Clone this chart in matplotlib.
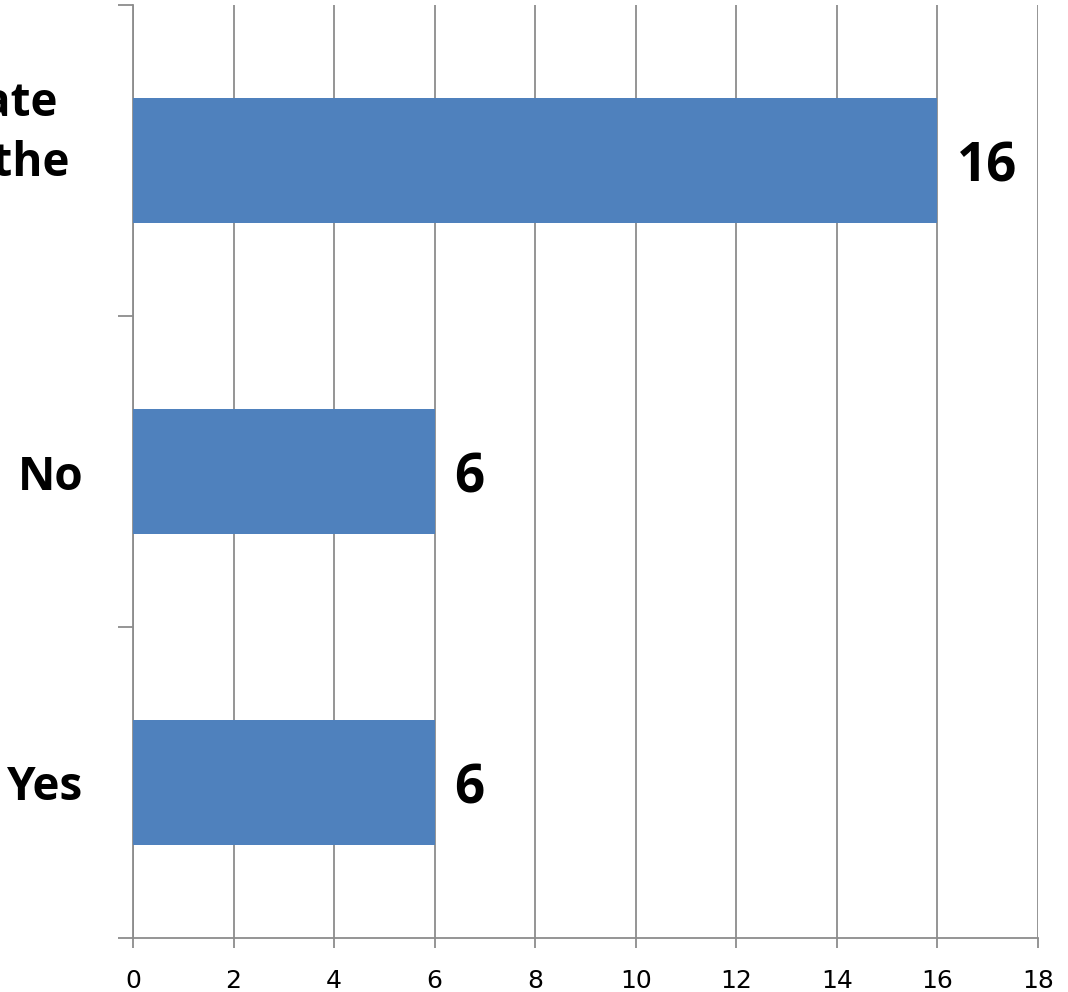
import numpy as np
import matplotlib
matplotlib.use("Agg")
import matplotlib.pyplot as plt

# data
categories = ["Yes", "No", "Not sure / Too early to evaluate\nthe impact of the changes to the\nsystem"]
values = [6, 6, 16]
x_ticks = list(range(0, 19, 2))

bar_color = "#4F81BD"
axis_gray = "#8C8C8C"

fig = plt.figure(figsize=(10.68, 9.92), dpi=100)
ax = fig.add_axes([133/1068, 1 - 938/992, (1038-133)/1068, (938-5)/992])

pos = np.arange(len(categories))
bars = ax.barh(pos, values, height=0.4, color=bar_color, zorder=3)

ax.set_xlim(0, 18)
ax.set_ylim(-0.5, len(categories) - 0.5)
ax.set_xticks(x_ticks)
ax.set_xticklabels([str(t) for t in x_ticks], fontsize=18, family="DejaVu Sans")

# category boundaries as major ticks, names as minor ticks
ax.set_yticks(np.arange(-0.5, len(categories), 1.0))
ax.set_yticklabels([])
ax.set_yticks(pos[:2], minor=True)
ax.set_yticklabels(categories[:2], minor=True, fontsize=33,
                   fontweight="bold", family="Open Sans")
ax.tick_params(axis="y", which="minor", length=0, pad=36)
ax.tick_params(axis="y", which="major", length=10.8, width=1.3, color=axis_gray)
ax.tick_params(axis="x", length=7.2, width=1.3, color=axis_gray, pad=15)

# long label, cut off at the left edge like the original
ax.annotate(categories[2], xy=(0, pos[2]), xycoords=("axes fraction", "data"),
            xytext=(-(133-70)*0.72, -2), textcoords="offset points",
            ha="right", va="center", multialignment="center",
            fontsize=33, fontweight="bold", family="Open Sans",
            linespacing=1.35, annotation_clip=False)

ax.grid(axis="x", color=axis_gray, linewidth=1.3, zorder=0)
for s in ["top", "right"]:
    ax.spines[s].set_visible(False)
for s in ["left", "bottom"]:
    ax.spines[s].set_color(axis_gray)
    ax.spines[s].set_linewidth(1.3)

for b, v in zip(bars, values):
    ax.annotate(str(v), xy=(v, b.get_y() + b.get_height()/2),
                xytext=(14, -5), textcoords="offset points",
                ha="left", va="center", fontsize=38, fontweight="bold",
                family="Open Sans")

fig.savefig("out.png", dpi=100)
